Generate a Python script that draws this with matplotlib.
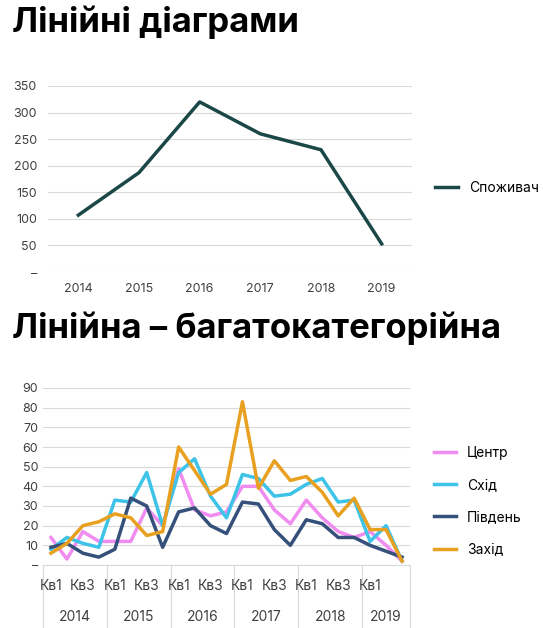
import matplotlib
matplotlib.use("Agg")
import matplotlib.pyplot as plt
import numpy as np

plt.rcParams['font.family'] = ['Inter', 'DejaVu Sans']

years = ["2014", "2015", "2016", "2017", "2018", "2019"]
consumer = [107, 187, 320, 260, 230, 53]

quarters_per_year = [4, 4, 4, 4, 4, 3]
quarter_labels = ["Кв1", "", "Кв3", ""]
centr = [14, 3, 17, 12, 12, 12, 29, 20, 49, 28, 25, 27, 40, 40, 28, 21, 33, 24, 17, 14, 17, 10, 2]
skhid = [8, 14, 11, 9, 33, 32, 47, 20, 47, 54, 35, 24, 46, 44, 35, 36, 41, 44, 32, 33, 12, 20, 2]
pivden = [9, 11, 6, 4, 8, 34, 30, 9, 27, 29, 20, 16, 32, 31, 18, 10, 23, 21, 14, 14, 10, 7, 4]
zakhid = [6, 11, 20, 22, 26, 24, 15, 17, 60, 48, 36, 41, 83, 39, 53, 43, 45, 37, 25, 34, 18, 18, 2]

W, H = 543, 628
fig = plt.figure(figsize=(W/100, H/100), dpi=100)
grid_c = '#d9d9d9'
txt_c = '#404040'

def ax_rect(l, t, r, b):
    return [l/W, 1-b/H, (r-l)/W, (b-t)/H]

fig.text(12/W, 1-22/H, "Лінійні діаграми", fontsize=25, fontweight='bold', va='center', ha='left')
fig.text(12/W, 1-328/H, "Лінійна – багатокатегорійна", fontsize=25, fontweight='bold', va='center', ha='left')

# top chart
ax = fig.add_axes(ax_rect(48, 86, 412, 272))
x = np.arange(len(years))
ax.plot(x, consumer, color='#1b4747', lw=2.5, label='Споживач')
ax.set_xlim(-0.5, len(years)-0.5)
ax.set_ylim(0, 350)
ax.set_yticks(range(0, 351, 50))
ax.set_yticklabels(['–'] + [str(v) for v in range(50, 351, 50)])
ax.set_xticks(x)
ax.set_xticklabels(years)
ax.grid(axis='y', color=grid_c, lw=0.8)
ax.set_axisbelow(True)
for s in ax.spines.values():
    s.set_visible(False)
ax.tick_params(length=0, labelsize=9, colors=txt_c, pad=8)
ax.legend(loc='center left', bbox_to_anchor=(1.03, 0.45), frameon=False, fontsize=10, handlelength=1.6)

# bottom chart
ax2 = fig.add_axes(ax_rect(43, 388, 410, 565))
n = len(centr)
xi = np.arange(n)
series = [("Центр", centr, '#f08cf0'), ("Схід", skhid, '#3ec3e8'),
          ("Південь", pivden, '#35507a'), ("Захід", zakhid, '#e8a020')]
for name, vals, c in series:
    ax2.plot(xi, vals, color=c, lw=2.5, label=name)
ax2.set_xlim(-0.5, n-0.5)
ax2.set_ylim(0, 90)
ax2.set_yticks(range(0, 91, 10))
ax2.set_yticklabels(['–'] + [str(v) for v in range(10, 91, 10)])
ax2.set_xticks([])
ax2.grid(axis='y', color=grid_c, lw=0.8)
ax2.set_axisbelow(True)
for s in ax2.spines.values():
    s.set_visible(False)
ax2.tick_params(length=0, labelsize=9, colors=txt_c)
ax2.legend(loc='center left', bbox_to_anchor=(1.03, 0.36), frameon=False, fontsize=10,
           handlelength=1.6, labelspacing=1.3)

# multi-level category axis
trans = ax2.get_xaxis_transform()
pos = -0.5
bounds = [pos]
qi = 0
for y, nq in zip(years, quarters_per_year):
    for q in range(nq):
        lab = quarter_labels[q] if not (y == "2019" and q == 2) else ""
        if lab:
            ax2.text(qi, -0.12, lab, transform=trans, ha='center', va='center', fontsize=10, color=txt_c)
        qi += 1
    ax2.text(pos + nq/2, -0.295, y, transform=trans, ha='center', va='center', fontsize=10, color=txt_c)
    pos += nq
    bounds.append(pos)
for b in bounds:
    ax2.plot([b, b], [0, -0.36], transform=trans, color=grid_c, lw=0.8, clip_on=False)
ax2.plot([-0.5, n-0.5], [0, 0], transform=trans, color=grid_c, lw=0.8, clip_on=False)

fig.savefig("out.png", dpi=100)
